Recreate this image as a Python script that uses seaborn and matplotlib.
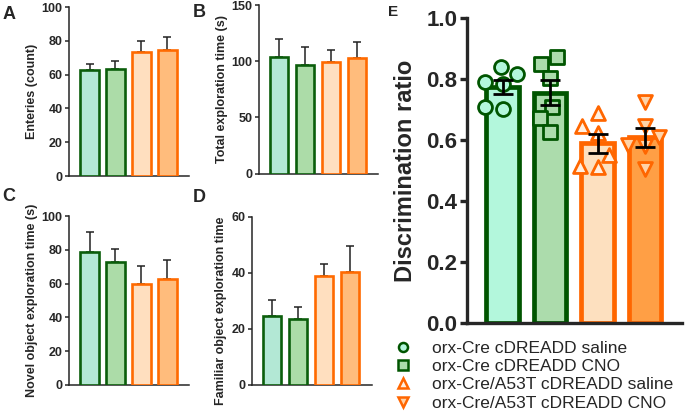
import numpy as np
import pandas as pd
import matplotlib
matplotlib.use("Agg")
import matplotlib.pyplot as plt
import seaborn as sns
from matplotlib.lines import Line2D
from matplotlib.transforms import Bbox, TransformedBbox

groups = ["orx-Cre cDREADD saline", "orx-Cre cDREADD CNO",
          "orx-Cre/A53T cDREADD saline", "orx-Cre/A53T cDREADD CNO"]

# panels A-D: group mean and SEM
entries_mean = [62.5, 63.5, 73.2, 74.6]
entries_sem = [3.5, 4.7, 6.8, 7.4]
total_mean = [103.8, 96.8, 99.4, 103.2]
total_sem = [16.2, 15.6, 10.9, 13.6]
novel_mean = [78.9, 73.0, 59.8, 62.9]
novel_sem = [11.4, 7.3, 10.8, 10.9]
familiar_mean = [24.7, 23.5, 38.9, 40.2]
familiar_sem = [5.6, 4.2, 4.4, 9.5]

# panel E: individual discrimination ratios
ratio_ctrl_saline = [0.841, 0.817, 0.790, 0.784, 0.710, 0.702]
ratio_ctrl_cno = [0.872, 0.850, 0.803, 0.710, 0.672, 0.628]
ratio_a53t_saline = [0.689, 0.647, 0.625, 0.552, 0.516, 0.511]
ratio_a53t_cno = [0.725, 0.648, 0.612, 0.585, 0.580, 0.505]

fill_small = ["#b3e8d5", "#acdca8", "#ffdfbf", "#ffbc7c"]
fill_big = ["#b3f7dc", "#acdcac", "#fde0bf", "#ff9f45"]
edges = ["#0b5e0b", "#0b5e0b", "#ff6a00", "#ff6a00"]
edges_big = ["#005500", "#005500", "#ff6600", "#ff6600"]
marker_face = ["#b3f7dc", "#acdcac", "#fff0e2", "#ffd3a8"]
markers = ["o", "s", "^", "v"]

sns.set_style("ticks")
plt.rcParams["font.family"] = ["Liberation Sans", "DejaVu Sans"]
plt.rcParams["font.weight"] = "bold"

fig = plt.figure(figsize=(6.85, 4.15), dpi=100)


def small_panel(rect, means, sems, ymax, step, label):
    ax = fig.add_axes(rect)
    df = pd.DataFrame({"group": groups, "value": means})
    sns.barplot(data=df, x="group", y="value", hue="group", palette=fill_small,
                order=groups, hue_order=groups, errorbar=None, width=0.7,
                saturation=1, linewidth=1.9, legend=False, ax=ax, zorder=3)
    for patch, ec in zip(ax.patches, edges):
        patch.set_edgecolor(ec)
    ax.errorbar(np.arange(4), means, yerr=[np.zeros(4), sems], fmt="none",
                ecolor="#222222", elinewidth=1.1, capsize=3, capthick=1.1,
                zorder=2)
    ax.set_xlim(-0.79, 3.83)
    ax.set_ylim(0, ymax)
    ax.set_yticks(np.arange(0, ymax + 1, step))
    ax.set_xticks([])
    ax.set_xlabel("")
    ax.set_ylabel(label, fontsize=9, fontweight="bold", labelpad=3)
    ax.tick_params(axis="y", labelsize=9, length=3, width=1.1, pad=1.5)
    for t in ax.get_yticklabels():
        t.set_fontweight("bold")
    for s in ["left", "bottom"]:
        ax.spines[s].set_linewidth(1.1)
    sns.despine(ax=ax)
    return ax


small_panel([0.1007, 0.5759, 0.1752, 0.4072], entries_mean, entries_sem,
            100, 20, "Enteries (count)")
small_panel([0.3781, 0.5814, 0.1737, 0.4065], total_mean, total_sem,
            150, 50, "Total exploration time (s)")
small_panel([0.1007, 0.0723, 0.1752, 0.4072], novel_mean, novel_sem,
            100, 20, "Novel object exploration time (s)")
axd = small_panel([0.3674, 0.0723, 0.1752, 0.4055], familiar_mean, familiar_sem,
                  60, 20, "Familiar object exploration time (s)")
# the long label runs into panel B and is cut off there
lab = axd.yaxis.label
lab.set_clip_box(TransformedBbox(Bbox([[0, 0], [1, 0.483]]), fig.transFigure))
lab.set_clip_on(True)

# panel E
axe = fig.add_axes([0.6818, 0.2210, 0.3139, 0.7349])
ratios = [ratio_ctrl_saline, ratio_ctrl_cno, ratio_a53t_saline, ratio_a53t_cno]
df_e = pd.DataFrame({
    "group": np.repeat(groups, [len(r) for r in ratios]),
    "ratio": np.concatenate(ratios),
})
sns.barplot(data=df_e, x="group", y="ratio", hue="group", palette=fill_big,
            order=groups, hue_order=groups, errorbar=None, width=0.69,
            saturation=1, linewidth=3.4, legend=False, ax=axe)
for patch, ec in zip(axe.patches, edges_big):
    patch.set_edgecolor(ec)
for i, g in enumerate(groups):
    sub = df_e[df_e["group"] == g]
    sns.swarmplot(data=sub, x="group", y="ratio", order=groups, marker=markers[i],
                  color=marker_face[i], edgecolor=edges_big[i], linewidth=2,
                  size=10, ax=axe, zorder=4)
stats = df_e.groupby("group", sort=False)["ratio"].agg(["mean", "sem"])
axe.errorbar(np.arange(4), stats["mean"], yerr=stats["sem"], fmt="none",
             ecolor="black", elinewidth=2, capsize=7, capthick=2, zorder=6)
axe.set_xlim(-0.75, 3.78)
axe.set_ylim(0, 1.0)
axe.set_yticks(np.arange(0, 1.01, 0.2))
axe.set_yticklabels([f"{v:.1f}" for v in np.arange(0, 1.01, 0.2)],
                    fontweight="bold")
axe.set_xticks([])
axe.set_xlabel("")
axe.set_ylabel("Discrimination ratio", fontsize=17, fontweight="bold", labelpad=7)
axe.tick_params(axis="y", labelsize=16, length=5, width=2.4, pad=2)
for s in ["left", "bottom"]:
    axe.spines[s].set_linewidth(2.4)
sns.despine(ax=axe)

handles = [Line2D([], [], linestyle="", marker=markers[i], markersize=6.5,
                  markerfacecolor=marker_face[i], markeredgecolor=edges_big[i],
                  markeredgewidth=1.8) for i in range(4)]
fig.legend(handles, groups, loc="upper left", bbox_to_anchor=(0.575, 0.178),
           frameon=False, prop={"size": 12.5, "weight": "normal"},
           labelspacing=0.17, handlelength=1.0, handletextpad=1.2,
           borderaxespad=0, borderpad=0)

for letter, x, y, size in [("A", 0.003, 0.985, 13), ("B", 0.281, 0.99, 13),
                           ("C", 0.003, 0.548, 13), ("D", 0.281, 0.545, 13),
                           ("E", 0.567, 0.988, 11)]:
    fig.text(x, y, letter, fontsize=size, fontweight="bold", va="top", ha="left")

fig.savefig("out.png", dpi=100)
